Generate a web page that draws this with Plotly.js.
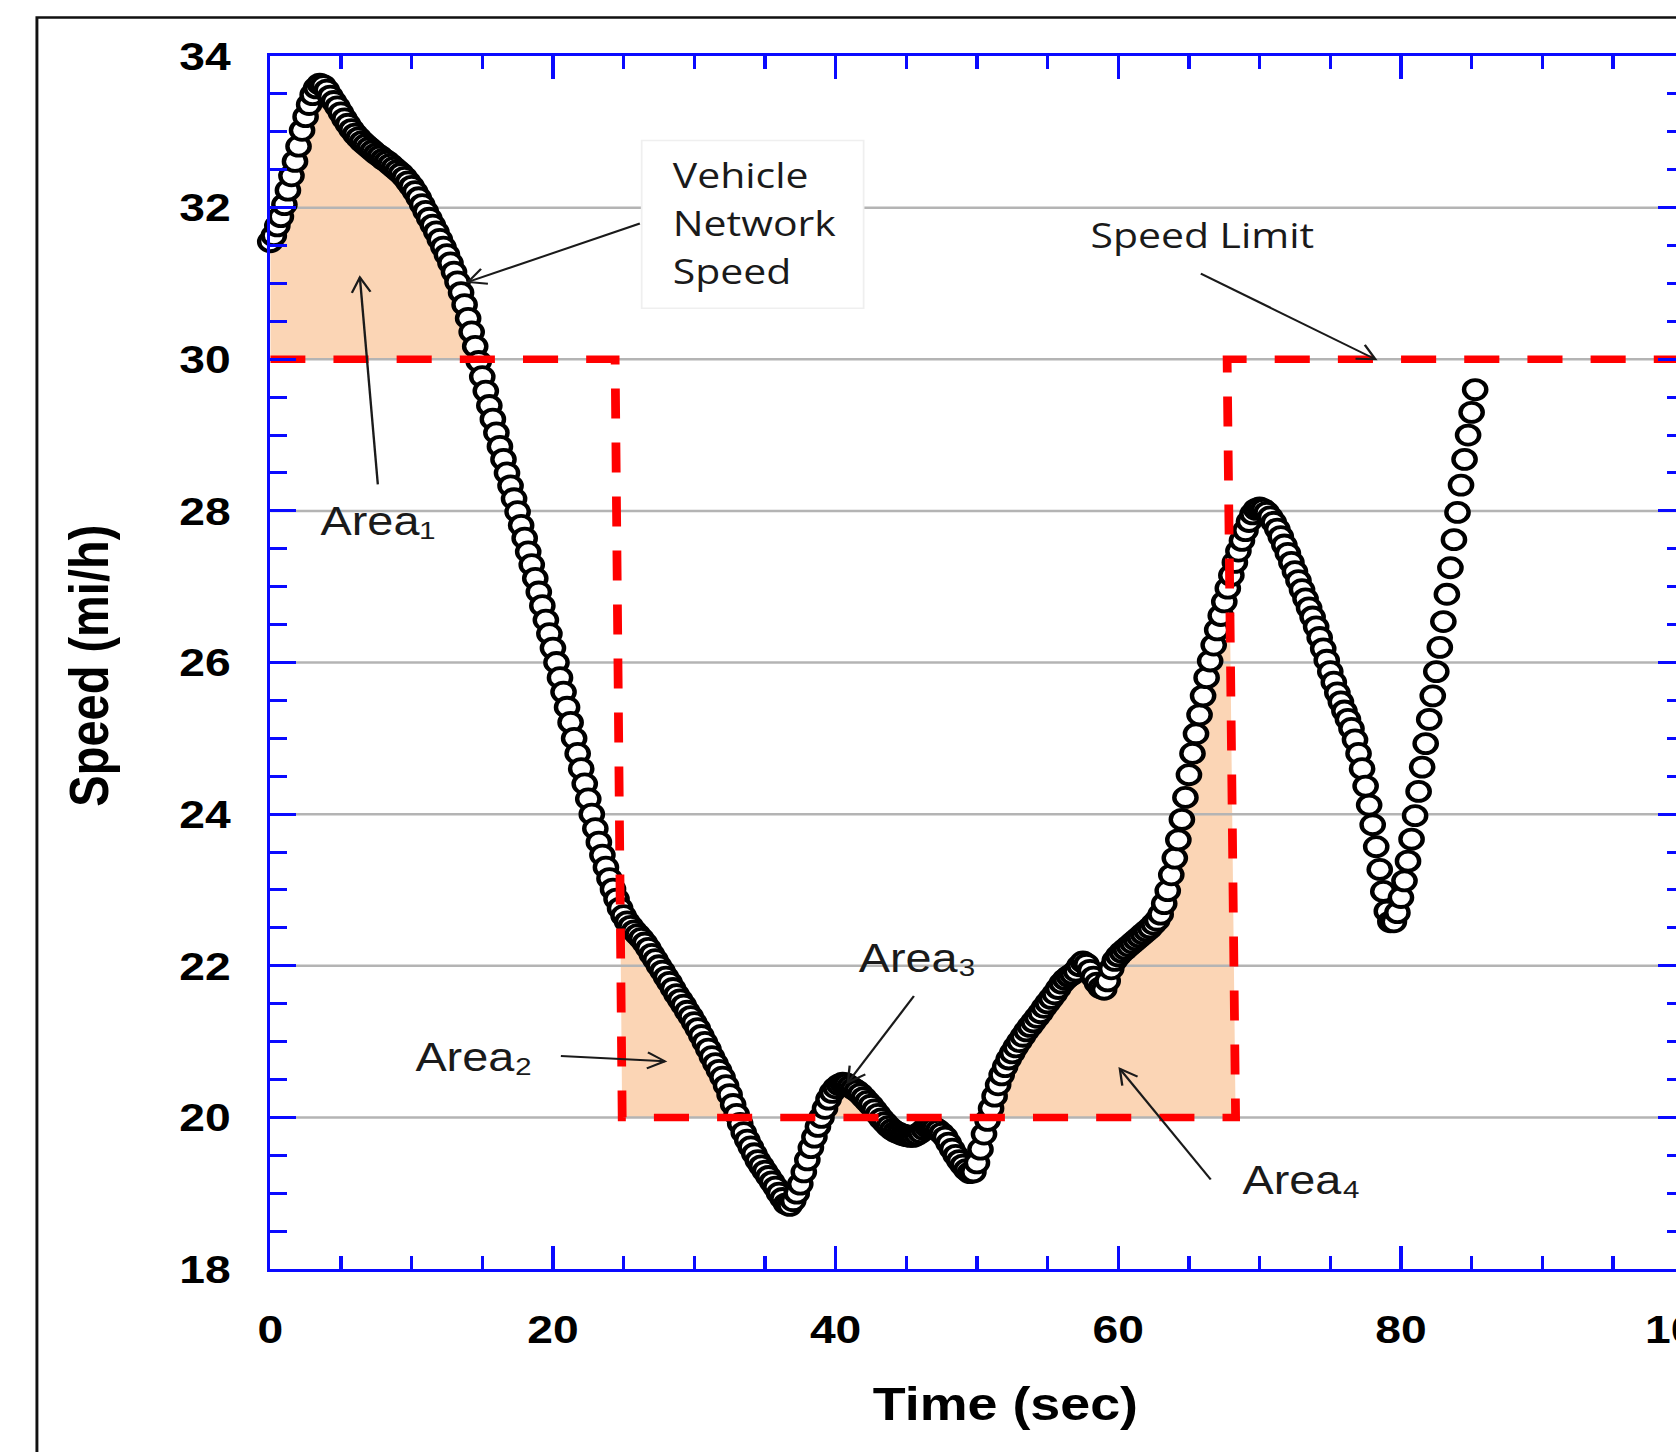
<!DOCTYPE html>
<html>
<head>
<meta charset="utf-8">
<script src="https://cdn.plot.ly/plotly-3.0.1.min.js"></script>
<style>
html,body{margin:0;padding:0;overflow:hidden;background:#fff;width:1676px;height:1452px;}
#chart{position:absolute;left:0;top:0;width:1480px;height:1452px;transform:scaleX(1.17);transform-origin:0 0;}
</style>
</head>
<body>
<div id="chart"></div>
<script>
// ---- data ----
const timeSec = [
0,0.25,0.5,0.75, 1,1.25,1.5,1.75, 2,2.25,2.5,2.75, 3,3.25,3.5,3.75, 4,4.25,4.5,4.75,
5,5.25,5.5,5.75, 6,6.25,6.5,6.75, 7,7.25,7.5,7.75, 8,8.25,8.5,8.75, 9,9.25,9.5,9.75,
10,10.25,10.5,10.75, 11,11.25,11.5,11.75, 12,12.25,12.5,12.75, 13,13.25,13.5,13.75, 14,14.25,14.5,14.75,
15,15.25,15.5,15.75, 16,16.25,16.5,16.75, 17,17.25,17.5,17.75, 18,18.25,18.5,18.75, 19,19.25,19.5,19.75,
20,20.25,20.5,20.75, 21,21.25,21.5,21.75, 22,22.25,22.5,22.75, 23,23.25,23.5,23.75, 24,24.25,24.5,24.75,
25,25.25,25.5,25.75, 26,26.25,26.5,26.75, 27,27.25,27.5,27.75, 28,28.25,28.5,28.75, 29,29.25,29.5,29.75,
30,30.25,30.5,30.75, 31,31.25,31.5,31.75, 32,32.25,32.5,32.75, 33,33.25,33.5,33.75, 34,34.25,34.5,34.75,
35,35.25,35.5,35.75, 36,36.25,36.5,36.75, 37,37.25,37.5,37.75, 38,38.25,38.5,38.75, 39,39.25,39.5,39.75,
40,40.25,40.5,40.75, 41,41.25,41.5,41.75, 42,42.25,42.5,42.75, 43,43.25,43.5,43.75, 44,44.25,44.5,44.75,
45,45.25,45.5,45.75, 46,46.25,46.5,46.75, 47,47.25,47.5,47.75, 48,48.25,48.5,48.75, 49,49.25,49.5,49.75,
50,50.25,50.5,50.75, 51,51.25,51.5,51.75, 52,52.25,52.5,52.75, 53,53.25,53.5,53.75, 54,54.25,54.5,54.75,
55,55.25,55.5,55.75, 56,56.25,56.5,56.75, 57,57.25,57.5,57.75, 58,58.25,58.5,58.75, 59,59.25,59.5,59.75,
60,60.25,60.5,60.75, 61,61.25,61.5,61.75, 62,62.25,62.5,62.75, 63,63.25,63.5,63.75, 64,64.25,64.5,64.75,
65,65.25,65.5,65.75, 66,66.25,66.5,66.75, 67,67.25,67.5,67.75, 68,68.25,68.5,68.75, 69,69.25,69.5,69.75,
70,70.25,70.5,70.75, 71,71.25,71.5,71.75, 72,72.25,72.5,72.75, 73,73.25,73.5,73.75, 74,74.25,74.5,74.75,
75,75.25,75.5,75.75, 76,76.25,76.5,76.75, 77,77.25,77.5,77.75, 78,78.25,78.5,78.75, 79,79.25,79.5,79.75,
80,80.25,80.5,80.75, 81,81.25,81.5,81.75, 82,82.25,82.5,82.75, 83,83.25,83.5,83.75, 84,84.25,84.5,84.75,
85,85.25
];
const speedMph = [
31.55,31.63,31.76,31.88, 32.04,32.23,32.42,32.61, 32.81,33.02,33.20,33.36, 33.49,33.58,33.63,33.61, 33.55,33.47,33.40,33.33,
33.25,33.17,33.10,33.03, 32.97,32.92,32.87,32.83, 32.79,32.75,32.71,32.68, 32.64,32.61,32.57,32.53, 32.49,32.45,32.40,32.34,
32.28,32.21,32.13,32.04, 31.95,31.86,31.77,31.68, 31.58,31.48,31.38,31.27, 31.15,31.02,30.88,30.72, 30.54,30.36,30.17,29.97,
29.77,29.58,29.39,29.21, 29.03,28.85,28.68,28.50, 28.33,28.16,27.99,27.81, 27.64,27.46,27.29,27.11, 26.93,26.75,26.56,26.38,
26.19,26.00,25.80,25.61, 25.41,25.21,25.00,24.80, 24.60,24.40,24.20,24.00, 23.81,23.63,23.46,23.30, 23.15,23.01,22.88,22.76,
22.66,22.58,22.52,22.46, 22.41,22.36,22.30,22.23, 22.15,22.08,22.00,21.93, 21.85,21.78,21.70,21.62, 21.55,21.48,21.40,21.33,
21.25,21.17,21.08,20.99, 20.90,20.80,20.71,20.62, 20.53,20.42,20.30,20.17, 20.04,19.92,19.80,19.70, 19.61,19.52,19.43,19.36,
19.29,19.22,19.15,19.08, 19.00,18.93,18.86,18.84, 18.90,19.00,19.12,19.28, 19.44,19.60,19.74,19.88, 20.00,20.12,20.24,20.33,
20.39,20.43,20.45,20.44, 20.41,20.38,20.35,20.31, 20.26,20.21,20.16,20.10, 20.04,19.98,19.93,19.88, 19.84,19.81,19.79,19.77,
19.76,19.75,19.75,19.77, 19.80,19.84,19.87,19.88, 19.86,19.83,19.79,19.74, 19.66,19.58,19.50,19.43, 19.37,19.31,19.27,19.28,
19.40,19.58,19.78,19.96, 20.12,20.28,20.43,20.56, 20.67,20.77,20.85,20.93, 21.00,21.07,21.14,21.20, 21.26,21.32,21.38,21.45,
21.51,21.57,21.63,21.70, 21.77,21.82,21.86,21.89, 21.93,22.00,22.05,22.02, 21.94,21.85,21.77,21.71, 21.69,21.80,21.96,22.07,
22.13,22.18,22.22,22.26, 22.30,22.34,22.38,22.42, 22.46,22.50,22.55,22.60, 22.68,22.82,22.99,23.20, 23.42,23.66,23.93,24.22,
24.52,24.80,25.06,25.31, 25.56,25.80,26.02,26.23, 26.43,26.62,26.80,26.98, 27.15,27.32,27.47,27.61, 27.74,27.86,27.96,28.02,
28.04,28.02,27.98,27.92, 27.85,27.76,27.66,27.55, 27.44,27.32,27.20,27.08, 26.96,26.84,26.72,26.60, 26.47,26.33,26.18,26.03,
25.88,25.74,25.60,25.48, 25.36,25.25,25.13,24.98, 24.80,24.60,24.37,24.12, 23.86,23.57,23.27,22.98, 22.72,22.58,22.58,22.70,
22.90,23.12,23.38,23.67, 23.98,24.30,24.62,24.93, 25.25,25.56,25.88,26.20, 26.54,26.90,27.25,27.62, 27.98,28.34,28.68,29.00,
29.30,29.60
];
const limitTime = [0, 24.4, 24.9, 68.3, 67.7, 100];
const limitMph  = [30, 30, 20, 20, 30, 30];
const xTickVals = [0, 20, 40, 60, 80, 100];
const yTickVals = [18, 20, 22, 24, 26, 28, 30, 32, 34];
const xRange = [0, 100];
const yRange = [18, 34];

// ---- geometry of the page (base px, before the horizontal stretch) ----
const W = 1480, H = 1452, M = {l:231, r:41, t:56, b:183};
const KX = (W - M.l - M.r) / (xRange[1] - xRange[0]);
const KY = (H - M.t - M.b) / (yRange[1] - yRange[0]);

// ---- helpers: fills of the areas where speed exceeds the limit ----
function speedAt(t){
  for(let i=0;i<timeSec.length-1;i++){
    if(t>=timeSec[i] && t<=timeSec[i+1]){
      const f=(t-timeSec[i])/(timeSec[i+1]-timeSec[i]);
      return speedMph[i]+f*(speedMph[i+1]-speedMph[i]);
    }
  }
  return speedMph[speedMph.length-1];
}
function nextCross(level, after){
  after += 1e-6;
  for(let i=0;i<timeSec.length-1;i++){
    if(timeSec[i+1]<=after) continue;
    const a=speedMph[i]>=level, b=speedMph[i+1]>=level;
    if(a!==b){
      const t=timeSec[i]+(level-speedMph[i])/(speedMph[i+1]-speedMph[i])*(timeSec[i+1]-timeSec[i]);
      if(t>after) return t;
    }
  }
  return null;
}
function edgeX(k, v){
  return limitTime[k]+(v-limitMph[k])/(limitMph[k+1]-limitMph[k])*(limitTime[k+1]-limitTime[k]);
}
function edgeHit(k){
  let t=(limitTime[k]+limitTime[k+1])/2;
  for(let n=0;n<30;n++) t=edgeX(k, speedAt(t));
  return t;
}
function poly(pre, tA, tB, post){
  const xs=pre.map(p=>p[0]), ys=pre.map(p=>p[1]);
  xs.push(tA); ys.push(speedAt(tA));
  for(let i=0;i<timeSec.length;i++){ if(timeSec[i]>tA && timeSec[i]<tB){ xs.push(timeSec[i]); ys.push(speedMph[i]); } }
  xs.push(tB); ys.push(speedAt(tB));
  post.forEach(p=>{ xs.push(p[0]); ys.push(p[1]); });
  return {xs, ys};
}
const c1 = nextCross(limitMph[0], limitTime[0]);
const area1 = poly([[limitTime[0], limitMph[0]]], limitTime[0], c1, [[c1, limitMph[0]]]);
const tL = edgeHit(1);
const c2 = nextCross(limitMph[2], tL);
const area2 = poly([[limitTime[2], limitMph[2]]], tL, c2, [[c2, limitMph[2]]]);
const c3a = nextCross(limitMph[2], c2);
const c3b = nextCross(limitMph[2], c3a);
const area3 = poly([[c3a, limitMph[2]]], c3a, c3b, [[c3b, limitMph[2]]]);
const c4 = nextCross(limitMph[2], c3b);
const tR = edgeHit(3);
const area4 = poly([[c4, limitMph[3]]], c4, tR, [[limitTime[3], limitMph[3]]]);

const PEACH = '#FBD5B5';
const BLUE = '#0a0aff';
const INK = '#1a1a1a';
function fillTrace(a){
  return {x:a.xs, y:a.ys, type:'scatter', mode:'lines', fill:'toself', fillcolor:PEACH,
          line:{width:0, color:PEACH}, hoverinfo:'skip', showlegend:false};
}
const gx=[], gy=[];
yTickVals.filter(v=>v>yRange[0] && v<yRange[1]).forEach(v=>{ gx.push(xRange[0], xRange[1], null); gy.push(v, v, null); });

const traces = [
  fillTrace(area1), fillTrace(area2), fillTrace(area3), fillTrace(area4),
  {x:gx, y:gy, type:'scatter', mode:'lines', line:{color:'#b4b4b4', width:2.5}, hoverinfo:'skip', showlegend:false},
  {x:timeSec, y:speedMph, type:'scatter', mode:'markers', name:'Vehicle Network Speed', cliponaxis:false,
   marker:{symbol:'circle', size:19, color:'#ffffff', line:{color:'#000000', width:3.8}}, showlegend:false},
  {x:limitTime, y:limitMph, type:'scatter', mode:'lines', name:'Speed Limit',
   line:{color:'#ff0000', width:7.5, dash:'30px,24px'}, showlegend:false}
];

const tickFont = {family:'Liberation Sans, Arial, sans-serif', size:39.5, color:'#000', weight:'bold'};
const areaFont = {family:'Liberation Sans, DejaVu Sans, Arial, sans-serif', size:40, color:INK};
const noteFont = {family:'Open Sans, Noto Sans, sans-serif', size:35, color:INK};
const titleFont = {family:'Liberation Sans, Arial, sans-serif', color:'#000', weight:'bold'};

// arrow = straight line from tail to head + open chevron head (drawn as shapes)
function arrowShapes(hx, hy, tx, ty){
  const dx=(hx-tx)*KX, dy=(hy-ty)*KY, len=Math.hypot(dx,dy), ux=dx/len, uy=dy/len;
  const L=17, th=28*Math.PI/180;
  const arms=[th,-th].map(a=>{
    const rx=ux*Math.cos(a)-uy*Math.sin(a), ry=ux*Math.sin(a)+uy*Math.cos(a);
    return [hx - L*rx/KX, hy - L*ry/KY];
  });
  return [
    {type:'line', xref:'x', yref:'y', x0:tx, y0:ty, x1:hx, y1:hy, line:{color:INK, width:2}, layer:'above'},
    {type:'path', xref:'x', yref:'y', path:'M'+arms[0][0]+','+arms[0][1]+' L'+hx+','+hy+' L'+arms[1][0]+','+arms[1][1],
     line:{color:INK, width:2}, fillcolor:'rgba(0,0,0,0)', layer:'above'}
  ];
}
function label(x, y, text, font){
  return {x:x, y:y, xref:'x', yref:'y', text:text, showarrow:false, xanchor:'left', yanchor:'middle', font:font};
}

const shapes = [
  {type:'rect', xref:'paper', yref:'paper', x0:-0.1651, x1:1.026, y0:-0.2, y1:1.0317,
   line:{color:'#111111', width:2.5}, fillcolor:'rgba(0,0,0,0)', layer:'below'},
  {type:'rect', xref:'x', yref:'y', x0:26.28, x1:41.98, y0:30.672, y1:32.887,
   line:{color:'#efefef', width:1.5}, fillcolor:'#ffffff', layer:'above'}
].concat(
  arrowShapes(14.00, 31.02, 26.15, 31.79),
  arrowShapes(78.19, 30.00, 65.84, 31.13),
  arrowShapes(6.34, 31.08, 7.61, 28.35),
  arrowShapes(27.92, 20.74, 20.56, 20.81),
  arrowShapes(40.87, 20.46, 45.54, 21.60),
  arrowShapes(60.11, 20.64, 66.54, 19.18)
);

const layout = {
  width:W, height:H,
  margin:{l:M.l, r:M.r, t:M.t, b:M.b, autoexpand:false},
  paper_bgcolor:'#ffffff', plot_bgcolor:'#ffffff',
  showlegend:false,
  xaxis:{range:xRange, tickmode:'array', tickvals:xTickVals, ticks:'inside', ticklen:23, tickwidth:3, tickcolor:BLUE,
         showline:true, linecolor:BLUE, linewidth:3, mirror:'ticks', showgrid:false, zeroline:false,
         minor:{tickmode:'linear', tick0:0, dtick:5, ticks:'inside', ticklen:13, tickwidth:3, tickcolor:BLUE, showgrid:false},
         tickfont:tickFont, ticklabelstandoff:24, fixedrange:true},
  yaxis:{range:yRange, tickmode:'array', tickvals:yTickVals, ticks:'inside', ticklen:22, tickwidth:3, tickcolor:BLUE,
         showline:true, linecolor:BLUE, linewidth:3, mirror:'ticks', showgrid:false, zeroline:false,
         minor:{tickmode:'linear', tick0:18, dtick:0.5, ticks:'inside', ticklen:14, tickwidth:3, tickcolor:BLUE, showgrid:false},
         tickfont:tickFont, ticklabelstandoff:23, fixedrange:true},
  shapes:shapes,
  annotations:[
    {xref:'paper', yref:'paper', x:0.5199, y:-0.1113, xanchor:'center', yanchor:'middle', showarrow:false,
     text:'Time (sec)', font:Object.assign({size:46}, titleFont)},
    {xref:'paper', yref:'paper', x:-0.1286, y:0.4971, xanchor:'center', yanchor:'middle', showarrow:false,
     textangle:-90, text:'Speed (mi/h)', font:Object.assign({size:47}, titleFont)},
    label(28.31, 32.443, 'Vehicle', noteFont),
    label(28.31, 31.810, 'Network', noteFont),
    label(28.31, 31.167, 'Speed', noteFont),
    label(57.84, 31.639, 'Speed Limit', noteFont),
    label(3.40, 27.86, 'Area\u2081', areaFont),
    label(10.11, 20.79, 'Area\u2082', areaFont),
    label(41.48, 22.10, 'Area\u2083', areaFont),
    label(68.60, 19.17, 'Area\u2084', areaFont)
  ]
};

if(timeSec.length!==speedMph.length) console.warn('length mismatch', timeSec.length, speedMph.length);
Plotly.newPlot('chart', traces, layout, {staticPlot:true, displayModeBar:false});
</script>
</body>
</html>
